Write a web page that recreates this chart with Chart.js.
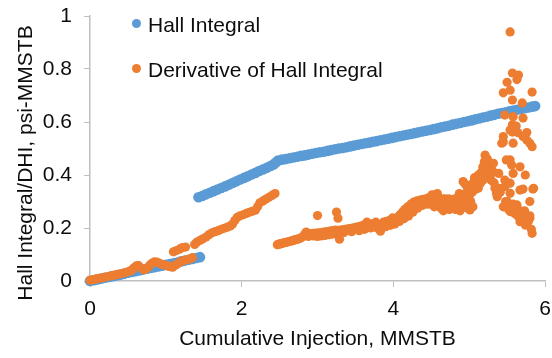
<!DOCTYPE html>
<html>
<head>
<meta charset="utf-8">
<script src="https://cdn.jsdelivr.net/npm/chart.js@4/dist/chart.umd.min.js"></script>
<style>
  body { margin: 0; background: #fff; }
  #wrap { position: relative; width: 552px; height: 358px; }
  .legend-item { position: absolute; left: 132px; height: 24px; line-height: 24px;
    font: 21px "Liberation Sans", Arial, sans-serif; color: #0d0d0d; white-space: nowrap; }
  .legend-item .dot { position: absolute; left: 0; top: 6px; width: 9px; height: 9px; border-radius: 50%; }
  .legend-item span.txt { position: absolute; left: 16px; top: 0; }
</style>
</head>
<body>
<div id="wrap">
  <canvas id="chart" width="552" height="358"></canvas>
  <div class="legend-item" style="top:13px"><div class="dot" style="background:#5B9BD5"></div><span class="txt">Hall Integral</span></div>
  <div class="legend-item" style="top:58px"><div class="dot" style="background:#ED7D31"></div><span class="txt">Derivative of Hall Integral</span></div>
</div>
<script>
// Hall integral (cumulative injection in MMSTB vs psi-MMSTB)
var hallX = [
  0, 0.05, 0.1, 0.15, 0.2, 0.25, 0.3, 0.35, 0.4, 0.45, 0.5, 0.55, 0.6, 0.65, 0.7, 0.75, 0.8, 0.85, 0.9, 0.95,
  1.0, 1.05, 1.1, 1.15, 1.2, 1.25, 1.3, 1.35, 1.4, 1.45,
  1.43, 1.48, 1.53, 1.58, 1.63, 1.68, 1.73, 1.78, 1.83, 1.88, 1.93, 1.98, 2.03, 2.08, 2.13, 2.18, 2.23, 2.28,
  2.33, 2.38, 2.42, 2.45,
  2.48, 2.53, 2.58, 2.63, 2.68, 2.73, 2.78, 2.83, 2.88, 2.93, 2.98, 3.03, 3.08, 3.13, 3.18, 3.23, 3.28, 3.33,
  3.38, 3.43, 3.48, 3.53, 3.58, 3.63, 3.68, 3.73, 3.78, 3.83, 3.88, 3.93, 3.98, 4.03, 4.08, 4.13, 4.18, 4.23,
  4.28, 4.33, 4.38, 4.43, 4.48, 4.53, 4.58, 4.63, 4.68, 4.73, 4.78, 4.83, 4.88, 4.93, 4.98, 5.03, 5.08, 5.13,
  5.18, 5.23, 5.28, 5.33, 5.38, 5.43, 5.48, 5.53, 5.58, 5.63, 5.68, 5.73, 5.78, 5.83, 5.87
];
var hallY = [
  0, 0.003, 0.006, 0.009, 0.012, 0.015, 0.018, 0.021, 0.024, 0.027, 0.031, 0.034, 0.037, 0.04, 0.043, 0.046, 0.049, 0.052, 0.055, 0.058,
  0.061, 0.064, 0.067, 0.07, 0.074, 0.077, 0.08, 0.083, 0.087, 0.09,
  0.316, 0.321, 0.327, 0.333, 0.339, 0.345, 0.351, 0.357, 0.363, 0.37, 0.376, 0.383, 0.389, 0.395, 0.402, 0.408, 0.415, 0.421,
  0.427, 0.434, 0.44, 0.447,
  0.455, 0.458, 0.46, 0.463, 0.466, 0.469, 0.472, 0.474, 0.477, 0.48, 0.483, 0.486, 0.488, 0.491, 0.494, 0.497, 0.5, 0.502,
  0.505, 0.508, 0.511, 0.514, 0.517, 0.52, 0.522, 0.525, 0.528, 0.531, 0.534, 0.537, 0.54, 0.543, 0.546, 0.549, 0.552, 0.555,
  0.558, 0.561, 0.564, 0.567, 0.57, 0.573, 0.576, 0.58, 0.583, 0.586, 0.59, 0.593, 0.596, 0.6, 0.603, 0.606, 0.61, 0.613,
  0.617, 0.62, 0.624, 0.627, 0.631, 0.634, 0.637, 0.64, 0.643, 0.646, 0.649, 0.652, 0.655, 0.658, 0.66
];

// derivative of the Hall integral, [x, y] pairs
var derivEarly = [
  [0, .003], [.04, .005], [.08, .008], [.12, .01], [.16, .012], [.2, .015], [.24, .017], [.28, .02], [.32, .022],
  [.36, .025], [.4, .027], [.44, .03], [.48, .033], [.52, .037], [.55, .041], [.58, .05], [.61, .057], [.64, .058],
  [.67, .05], [.7, .043], [.73, .044], [.76, .05], [.79, .06], [.82, .068], [.85, .072], [.88, .071], [.91, .068],
  [.94, .064], [.97, .061], [1.0, .059], [1.03, .056], [1.06, .054], [1.09, .052], [1.13, .06], [1.16, .066],
  [1.1, .11], [1.14, .115], [1.18, .12], [1.22, .126], [1.26, .128],
  [1.19, .073], [1.23, .077], [1.27, .08], [1.31, .083], [1.35, .088],
  [1.38, .138], [1.41, .147], [1.45, .153], [1.49, .159], [1.53, .166], [1.57, .175], [1.61, .182], [1.65, .186],
  [1.69, .19], [1.73, .195], [1.77, .199], [1.81, .203], [1.85, .208], [1.88, .215], [1.91, .228], [1.94, .24],
  [1.98, .246], [2.02, .25], [2.06, .255], [2.1, .259], [2.14, .263], [2.18, .267], [2.21, .28], [2.24, .295],
  [2.28, .302], [2.32, .309], [2.36, .316], [2.4, .323], [2.44, .33]
];
var derivLate = [
  [2.47, .137], [2.49, .139], [2.51, .14], [2.53, .142], [2.55, .143], [2.57, .145], [2.59, .146], [2.61, .148],
  [2.63, .149], [2.65, .151], [2.67, .152], [2.69, .154], [2.71, .156], [2.73, .157], [2.75, .159], [2.77, .161],
  [2.79, .164], [2.81, .168], [2.83, .175], [2.85, .185], [2.87, .18], [2.88, .168], [2.9, .176], [2.92, .178],
  [2.94, .18], [2.96, .179], [2.98, .181], [3.0, .18], [3.0, .247], [3.02, .182], [3.04, .179], [3.06, .183],
  [3.08, .185], [3.1, .181], [3.12, .186], [3.14, .184], [3.16, .188], [3.18, .186], [3.2, .19], [3.22, .188],
  [3.24, .192], [3.25, .26], [3.27, .237], [3.26, .183], [3.28, .17], [3.29, .158], [3.3, .192], [3.32, .19],
  [3.34, .194], [3.36, .192], [3.38, .196], [3.4, .194], [3.42, .198], [3.44, .196], [3.46, .2], [3.48, .198],
  [3.5, .202], [3.52, .2], [3.54, .205], [3.56, .203], [3.58, .208], [3.6, .205], [3.62, .212], [3.64, .21],
  [3.65, .222], [3.67, .215], [3.69, .212], [3.71, .216], [3.73, .214], [3.75, .218], [3.77, .222], [3.79, .208],
  [3.81, .196], [3.83, .188], [3.85, .215], [3.87, .222], [3.89, .218], [3.91, .225], [3.93, .22], [3.95, .228],
  [3.97, .232], [3.99, .238], [4.01, .226], [4.03, .232], [4.05, .238], [4.07, .244], [4.09, .25], [4.11, .256],
  [4.13, .262], [4.15, .27], [4.17, .258], [4.19, .28], [4.21, .272], [4.23, .29], [4.25, .284], [4.27, .298],
  [4.29, .292], [4.31, .302], [4.33, .296], [4.35, .305], [4.37, .3], [4.39, .308], [4.41, .302], [4.43, .31],
  [4.45, .305],
  // lower edge of the same band
  [2.95, .17], [3.0, .168], [3.05, .17], [3.1, .172], [3.15, .175], [3.2, .177], [3.35, .183], [3.45, .186],
  [3.55, .19], [3.62, .195], [3.7, .2], [3.76, .203], [3.9, .205], [3.96, .21], [4.02, .215], [4.08, .225],
  [4.14, .235], [4.2, .245], [4.26, .26], [4.32, .275], [4.38, .285], [4.44, .29]
];
var derivScatter = [
  [4.47, .315], [4.49, .29], [4.51, .325], [4.53, .3], [4.55, .312], [4.57, .285], [4.58, .33], [4.6, .305],
  [4.62, .29], [4.63, .275], [4.65, .3], [4.66, .265], [4.68, .31], [4.7, .28], [4.72, .295], [4.74, .27],
  [4.76, .305], [4.78, .285], [4.8, .29], [4.82, .27], [4.84, .3], [4.86, .28], [4.87, .33], [4.88, .265],
  [4.9, .295], [4.92, .28], [4.94, .31], [4.96, .29], [4.97, .33], [4.99, .3], [5.01, .268], [5.03, .285],
  [4.5, .3], [4.54, .28], [4.59, .295], [4.64, .31], [4.69, .29], [4.73, .31], [4.77, .275], [4.81, .31],
  [4.85, .285], [4.89, .31], [4.93, .295], [4.98, .275], [5.02, .3], [5.05, .28],
  [4.92, .375], [4.95, .365], [4.98, .35], [5.0, .34], [5.03, .355], [5.05, .37], [5.07, .39], [5.09, .38],
  [5.1, .36], [5.12, .4], [5.14, .39], [5.16, .41], [5.18, .43], [5.2, .45], [5.21, .475], [5.23, .44],
  [5.25, .42], [5.26, .445], [5.27, .4], [5.29, .38], [5.3, .42], [5.32, .41], [5.33, .37], [5.34, .35],
  [5.36, .33], [5.37, .318], [5.39, .35], [5.41, .335],
  [4.95, .33], [5.0, .32], [5.04, .335], [5.08, .345], [5.12, .35], [5.15, .37], [5.18, .38], [5.2, .4],
  [5.22, .42], [5.24, .46], [5.32, .444], [5.39, .406], [5.39, .337],
  [5.45, .28], [5.48, .3], [5.5, .3], [5.52, .27], [5.54, .262], [5.56, .28], [5.58, .29], [5.6, .255],
  [5.63, .249], [5.63, .287], [5.66, .24], [5.68, .26], [5.7, .235], [5.72, .23], [5.74, .211], [5.76, .22],
  [5.78, .225], [5.8, .237], [5.8, .246], [5.82, .195], [5.83, .18],
  [5.67, .261], [5.67, .224], [5.76, .237], [5.5, .287], [5.47, .356], [5.63, .28], [5.58, .287], [5.6, .27],
  [5.66, .255], [5.76, .245]
];
var derivSpike = [
  [5.54, .94], [5.57, .785], [5.65, .777], [5.63, .76], [5.5, .75], [5.54, .72], [5.45, .71], [5.83, .713],
  [5.57, .683], [5.7, .672], [5.47, .626], [5.58, .62], [5.71, .615], [5.57, .59], [5.62, .585], [5.57, .562],
  [5.64, .56], [5.76, .56], [5.45, .545], [5.76, .532], [5.45, .525], [5.58, .52], [5.8, .52], [5.54, .57],
  [5.71, .545], [5.83, .507], [5.43, .52],
  [5.54, .457], [5.49, .457], [5.56, .438], [5.67, .431], [5.74, .4], [5.58, .406], [5.47, .381], [5.54, .369],
  [5.67, .343], [5.71, .347], [5.85, .35], [5.84, .347], [5.54, .331], [5.8, .3], [5.73, .265]
];

var xTicks = [0, 2, 4, 6];
var yTicks = [0, 0.2, 0.4, 0.6, 0.8, 1];
var xTitle = 'Cumulative Injection, MMSTB';
var yTitle = 'Hall Integral/DHI, psi-MMSTB';

var FONT = '"Liberation Sans", Arial, sans-serif';
var TEXT = '#0d0d0d';
var AXIS = '#bfbfbf';

function toPoints(xs, ys) {
  var pts = [];
  for (var i = 0; i < xs.length; i++) {
    pts.push({x: xs[i], y: ys[i]});
  }
  return pts;
}

function pairsToPoints(lists) {
  var pts = [];
  lists.forEach(function(list) {
    list.forEach(function(p) { pts.push({x: p[0], y: p[1]}); });
  });
  return pts;
}

// rotated y axis title, sits a bit below the middle of the axis
var yTitlePlugin = {
  id: 'yTitle',
  afterDraw: function(chart) {
    var ctx = chart.ctx;
    ctx.save();
    ctx.translate(31.5, 163);
    ctx.rotate(-Math.PI / 2);
    ctx.font = '21px ' + FONT;
    ctx.fillStyle = TEXT;
    ctx.textAlign = 'center';
    ctx.textBaseline = 'alphabetic';
    ctx.fillText(yTitle, 0, 0);
    ctx.restore();
  }
};

var ctx = document.getElementById('chart').getContext('2d');
var myChart = new Chart(ctx, {
  type: 'scatter',
  data: {
    datasets: [{
      label: 'Hall Integral',
      data: toPoints(hallX, hallY),
      backgroundColor: '#5B9BD5',
      pointRadius: 5.3,
      pointBorderWidth: 0,
      order: 1,
      clip: false
    },
    {
      label: 'Derivative of Hall Integral',
      data: pairsToPoints([derivEarly, derivLate, derivScatter, derivSpike]),
      backgroundColor: '#ED7D31',
      pointRadius: 4.6,
      pointBorderWidth: 0,
      order: 0,
      clip: false
    }]
  },
  options: {
    responsive: false,
    animation: false,
    events: [],
    layout: { padding: { top: 16, right: 7, left: 0, bottom: 0 } },
    plugins: {
      legend: { display: false },
      tooltip: { enabled: false }
    },
    scales: {
      x: {
        type: 'linear',
        min: 0,
        max: 6,
        afterFit: function(scale) {
          scale.height = 77;
          scale.paddingLeft = 0;
          scale.paddingRight = 0;
        },
        afterBuildTicks: function(scale) {
          scale.ticks = xTicks.map(function(v) { return {value: v}; });
        },
        ticks: { font: { size: 21, family: FONT }, color: TEXT, padding: 10, maxRotation: 0 },
        grid: { drawOnChartArea: false, tickLength: 6, color: AXIS },
        border: { color: AXIS, width: 1.5 },
        title: { display: true, text: xTitle, font: { size: 21, family: FONT }, color: TEXT,
          padding: { top: 0, bottom: 6 } }
      },
      y: {
        type: 'linear',
        min: 0,
        max: 1,
        afterFit: function(scale) {
          scale.width = 90;
          scale.paddingTop = 0;
          scale.paddingBottom = 0;
        },
        afterBuildTicks: function(scale) {
          scale.ticks = yTicks.map(function(v) { return {value: v}; });
        },
        ticks: {
          font: { size: 21, family: FONT }, color: TEXT, padding: 12,
          callback: function(v) { return String(Math.round(v * 10) / 10); }
        },
        grid: { drawOnChartArea: false, tickLength: 6, color: AXIS },
        border: { color: AXIS, width: 1.5 }
      }
    }
  },
  plugins: [yTitlePlugin]
});
</script>
</body>
</html>
